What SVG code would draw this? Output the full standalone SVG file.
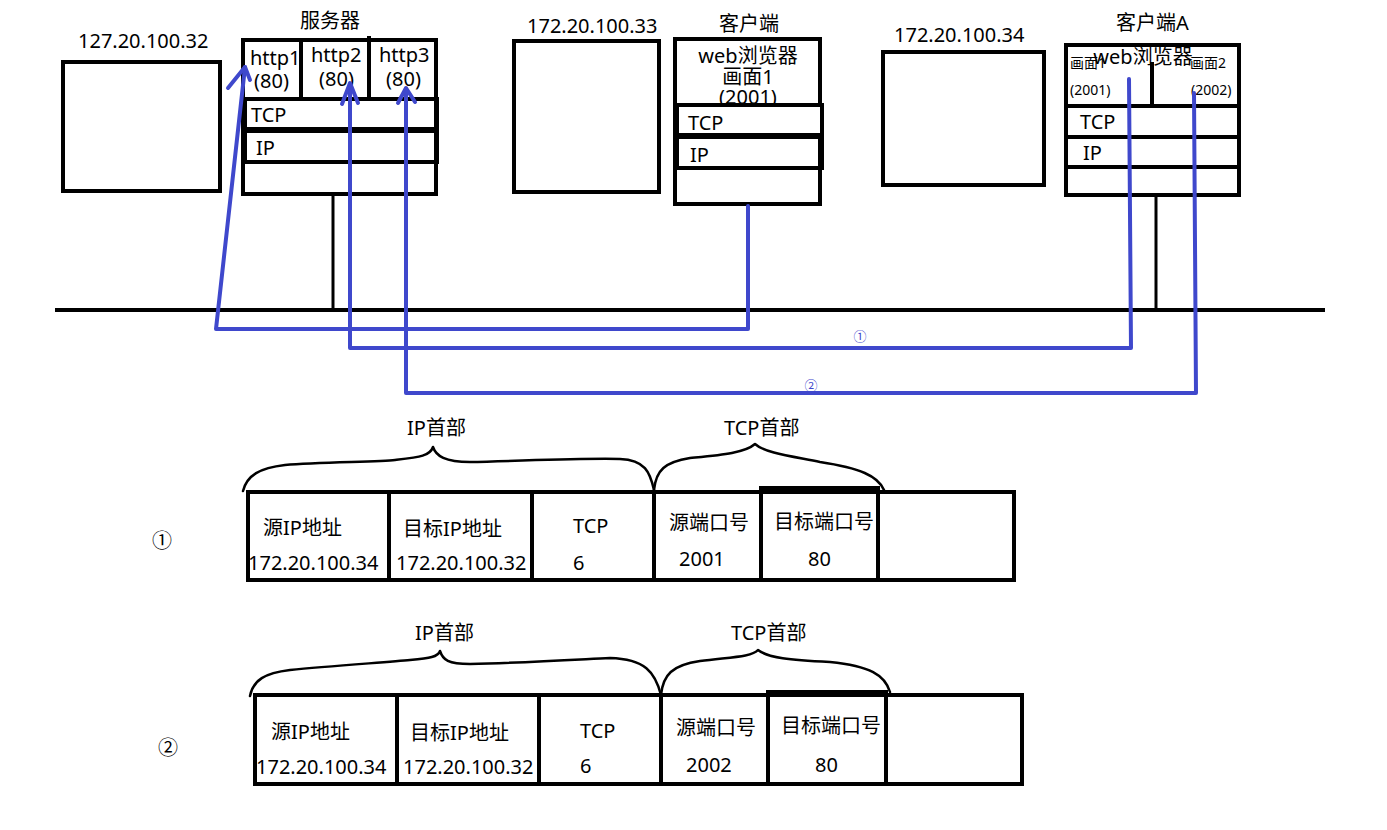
<svg xmlns="http://www.w3.org/2000/svg" width="1387" height="830" viewBox="0 0 1387 830">
<style>
.t{font-family:"Noto Sans","Noto Sans CJK SC",sans-serif;font-size:20px;fill:#000}
.s{font-family:"Noto Sans","Noto Sans CJK SC",sans-serif;font-size:14px;fill:#000}
.b{fill:none;stroke:#000;stroke-width:4}
.brace{fill:none;stroke:#000;stroke-width:2.5;stroke-linejoin:round;stroke-linecap:round}
.blue{fill:none;stroke:#3F48CC;stroke-width:4;stroke-linejoin:round;stroke-linecap:round}
.bl{font-family:"Noto Sans CJK SC",sans-serif;font-size:13px;fill:#3F48CC}
.c{font-family:"Noto Sans CJK SC",sans-serif;font-size:20px;fill:#000}
</style>
<rect width="1387" height="830" fill="#fff"/>

<g id="bus">
<line x1="55" y1="310" x2="1325" y2="310" stroke="#000" stroke-width="4"/>
<line x1="333" y1="195" x2="333" y2="310" stroke="#000" stroke-width="3"/>
<line x1="1156" y1="197" x2="1156" y2="310" stroke="#000" stroke-width="3"/>
</g>

<g id="host32">
<text class="t" x="78" y="48">127.20.100.32</text>
<rect class="b" x="63" y="62" width="157" height="129"/>
</g>

<g id="server">
<text class="t" x="300" y="28">服务器</text>
<rect class="b" x="243" y="40" width="193" height="154"/>
<line class="b" x1="301" y1="40" x2="301" y2="99"/>
<line class="b" x1="369" y1="36" x2="369" y2="99"/>
<rect class="b" x="245" y="99" width="192" height="30"/>
<rect class="b" x="245" y="131" width="192" height="31"/>
<text class="t" x="250" y="65">http1</text>
<text class="t" x="254" y="88">(80)</text>
<text class="t" x="311" y="62">http2</text>
<text class="t" x="319" y="86">(80)</text>
<text class="t" x="379" y="62">http3</text>
<text class="t" x="386" y="86">(80)</text>
<text class="t" x="251" y="122">TCP</text>
<text class="t" x="256" y="155">IP</text>
</g>

<g id="host33">
<text class="t" x="527" y="33">172.20.100.33</text>
<rect class="b" x="514" y="41" width="145" height="151"/>
</g>

<g id="client">
<text class="t" x="719" y="31">客户端</text>
<rect class="b" x="675" y="39" width="145" height="165"/>
<text class="t" x="748" y="63" text-anchor="middle">web浏览器</text>
<text class="t" x="748" y="84" text-anchor="middle">画面1</text>
<text class="t" x="748" y="104" text-anchor="middle">(2001)</text>
<rect x="677" y="105" width="145" height="30" fill="#fff" stroke="#000" stroke-width="4"/>
<rect class="b" x="677" y="137" width="145" height="31"/>
<text class="t" x="688" y="130">TCP</text>
<text class="t" x="690" y="162">IP</text>
</g>

<g id="host34">
<text class="t" x="894" y="42">172.20.100.34</text>
<rect class="b" x="883" y="52" width="161" height="133"/>
</g>

<g id="clientA">
<text class="t" x="1116" y="30">客户端A</text>
<rect class="b" x="1066" y="45" width="173" height="150"/>
<text class="t" x="1143" y="64" text-anchor="middle">web浏览器</text>
<line x1="1152" y1="62" x2="1152" y2="104" stroke="#000" stroke-width="4"/>
<text class="s" x="1070" y="68">画面1</text>
<text class="s" x="1070" y="95">(2001)</text>
<text class="s" x="1190" y="68">画面2</text>
<text class="s" x="1191" y="95">(2002)</text>
<rect class="b" x="1066" y="106" width="173" height="31"/>
<rect class="b" x="1066" y="137" width="173" height="30"/>
<text class="t" x="1080" y="129">TCP</text>
<text class="t" x="1083" y="160">IP</text>
</g>

<g id="connectors">
<path class="blue" d="M748,206 L748,329 L216,329 L245,67"/>
<polyline class="blue" points="228,88 245,67 250,80"/>
<path class="blue" d="M350,84 L350,348 L1131,348 L1129,79"/>
<polyline class="blue" points="342,104 350,83 358,103"/>
<path class="blue" d="M406,89 L406,393 L1196,393 L1194,93"/>
<polyline class="blue" points="398,103 406,88 415,102"/>
<text class="bl" x="860" y="341" text-anchor="middle">①</text>
<text class="bl" x="811" y="390" text-anchor="middle">②</text>
</g>

<g id="packet1">
<text class="c" x="162" y="548" text-anchor="middle">①</text>
<text class="t" x="407" y="435">IP首部</text>
<text class="t" x="724" y="435">TCP首部</text>
<path class="brace" d="M243,491 C247,475 260,468 285,465 C320,462 380,462 395,460 C420,457 430,456 433,447 C436,456 445,462 470,462 C520,461 580,458 620,459 C645,460 650,472 654,490"/>
<path class="brace" d="M654,490 C656,470 665,462 690,458 C720,455 745,453 755,444 C765,453 790,456 820,462 C860,468 878,476 884,490"/>
<rect class="b" x="248" y="492" width="766" height="88"/>
<line class="b" x1="389" y1="492" x2="389" y2="580"/>
<line class="b" x1="532" y1="492" x2="532" y2="580"/>
<line class="b" x1="654" y1="492" x2="654" y2="580"/>
<rect class="b" x="761" y="488" width="117" height="92"/>
<text class="t" x="263" y="535">源IP地址</text>
<text class="t" x="248" y="570">172.20.100.34</text>
<text class="t" x="403" y="536">目标IP地址</text>
<text class="t" x="396" y="570">172.20.100.32</text>
<text class="t" x="573" y="533">TCP</text>
<text class="t" x="573" y="570">6</text>
<text class="t" x="669" y="530">源端口号</text>
<text class="t" x="679" y="566">2001</text>
<text class="t" x="774" y="529">目标端口号</text>
<text class="t" x="808" y="566">80</text>
</g>

<g id="packet2">
<text class="c" x="168" y="755" text-anchor="middle">②</text>
<text class="t" x="415" y="640">IP首部</text>
<text class="t" x="731" y="640">TCP首部</text>
<path class="brace" d="M250,696 C253,680 265,673 290,670 C330,666 390,662 410,660 C430,658 438,657 440,651 C443,660 448,664 470,664 C520,663 570,660 610,658 C645,659 655,672 661,695"/>
<path class="brace" d="M661,695 C663,675 672,665 700,661 C730,657 752,657 758,650 C768,658 790,660 830,662 C870,666 885,675 890,692"/>
<rect class="b" x="255" y="695" width="767" height="89"/>
<line class="b" x1="397" y1="695" x2="397" y2="784"/>
<line class="b" x1="539" y1="695" x2="539" y2="784"/>
<line class="b" x1="661" y1="695" x2="661" y2="784"/>
<rect class="b" x="768" y="692" width="118" height="92"/>
<text class="t" x="271" y="739">源IP地址</text>
<text class="t" x="256" y="774">172.20.100.34</text>
<text class="t" x="410" y="740">目标IP地址</text>
<text class="t" x="403" y="774">172.20.100.32</text>
<text class="t" x="580" y="738">TCP</text>
<text class="t" x="580" y="773">6</text>
<text class="t" x="676" y="735">源端口号</text>
<text class="t" x="686" y="772">2002</text>
<text class="t" x="781" y="733">目标端口号</text>
<text class="t" x="815" y="772">80</text>
</g>
</svg>
